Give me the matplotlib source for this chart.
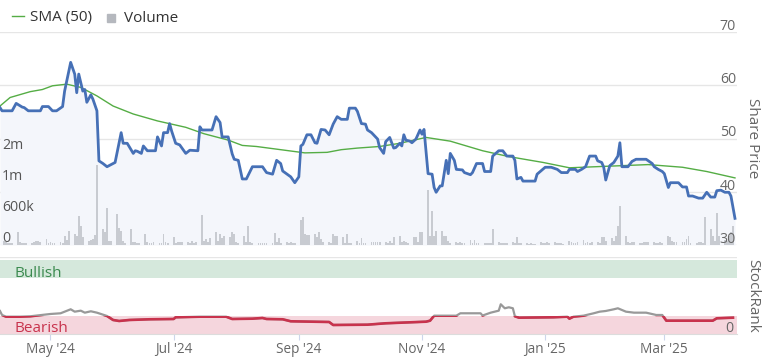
import matplotlib
matplotlib.use("Agg")
import matplotlib.pyplot as plt
import matplotlib.dates as mdates
import pandas as pd
import numpy as np
from matplotlib.patches import Rectangle
from matplotlib.lines import Line2D

plt.rcParams['font.family'] = ['Open Sans', 'DejaVu Sans']

# ---------------- data ----------------
price_dates = ['2024-04-06','2024-04-07','2024-04-12','2024-04-14','2024-04-17','2024-04-18','2024-04-20','2024-04-26','2024-04-27','2024-04-30',
 '2024-05-02','2024-05-04','2024-05-07','2024-05-08','2024-05-11','2024-05-13','2024-05-14','2024-05-15','2024-05-17','2024-05-18','2024-05-19','2024-05-21','2024-05-22','2024-05-24','2024-05-25','2024-05-27','2024-05-29',
 '2024-06-01','2024-06-02','2024-06-05','2024-06-06','2024-06-08','2024-06-11','2024-06-12','2024-06-13','2024-06-15','2024-06-16','2024-06-18','2024-06-22','2024-06-23','2024-06-25','2024-06-26','2024-06-28','2024-06-29','2024-06-30',
 '2024-07-02','2024-07-04','2024-07-07','2024-07-09','2024-07-13','2024-07-14','2024-07-15','2024-07-20','2024-07-22','2024-07-24','2024-07-25','2024-07-28','2024-07-30','2024-07-31',
 '2024-08-02','2024-08-04','2024-08-06','2024-08-09','2024-08-14','2024-08-16','2024-08-19','2024-08-21','2024-08-23','2024-08-24','2024-08-28','2024-08-30',
 '2024-09-01','2024-09-02','2024-09-03','2024-09-05','2024-09-07','2024-09-09','2024-09-10','2024-09-12','2024-09-14','2024-09-16','2024-09-18','2024-09-20','2024-09-22','2024-09-25','2024-09-26','2024-09-29','2024-09-30',
 '2024-10-02','2024-10-04','2024-10-05','2024-10-07','2024-10-10','2024-10-11','2024-10-13','2024-10-14','2024-10-16','2024-10-18','2024-10-19','2024-10-21','2024-10-22','2024-10-23','2024-10-24','2024-10-26','2024-10-27','2024-10-29','2024-10-31',
 '2024-11-01','2024-11-02','2024-11-04','2024-11-06','2024-11-07','2024-11-08','2024-11-10','2024-11-11','2024-11-13','2024-11-14','2024-11-15','2024-11-17','2024-11-18','2024-11-21','2024-11-22','2024-11-25','2024-11-26','2024-11-28',
 '2024-12-01','2024-12-02','2024-12-05','2024-12-06','2024-12-09','2024-12-11','2024-12-13','2024-12-16','2024-12-17','2024-12-18','2024-12-20','2024-12-21','2024-12-27','2024-12-28',
 '2025-01-01','2025-01-04','2025-01-07','2025-01-09','2025-01-12','2025-01-13','2025-01-16','2025-01-17','2025-01-19','2025-01-21','2025-01-23','2025-01-26','2025-01-27','2025-01-29','2025-01-30','2025-01-31',
 '2025-02-02','2025-02-04','2025-02-06','2025-02-07','2025-02-08','2025-02-11','2025-02-13','2025-02-15','2025-02-20','2025-02-23','2025-02-24','2025-02-26','2025-02-28',
 '2025-03-01','2025-03-03','2025-03-04','2025-03-08','2025-03-10','2025-03-12','2025-03-13','2025-03-15','2025-03-18','2025-03-20','2025-03-22','2025-03-24','2025-03-26','2025-03-27','2025-03-29','2025-03-31',
 '2025-04-02','2025-04-03','2025-04-05']
price_values = [55.8,55.2,55.2,56.6,55.9,55.8,55.2,55.2,56.0,56.0,
 55.2,55.2,56.0,58.9,64.3,62.1,58.6,62.1,58.9,59.2,56.8,58.2,57.4,55.2,45.8,45.3,44.7,
 45.3,45.5,51.1,49.1,49.1,47.2,47.7,47.6,47.2,48.6,47.7,47.7,50.3,48.6,51.1,51.1,52.8,51.4,
 49.1,48.8,47.2,47.8,47.7,52.2,51.6,51.6,54.1,53.0,50.3,50.3,47.1,46.1,
 45.9,42.4,42.4,44.7,44.7,43.6,43.3,45.9,45.3,43.9,42.8,41.7,
 42.8,48.6,48.9,50.7,50.7,49.2,49.1,51.7,51.6,50.7,52.7,54.1,53.6,53.6,55.7,55.7,55.1,
 52.8,52.7,51.6,51.1,49.9,48.3,47.2,49.4,50.2,48.2,48.3,49.1,48.6,50.7,49.7,49.5,49.2,49.9,51.6,
 50.8,51.7,43.4,43.3,40.8,39.9,41.1,41.1,45.9,43.4,47.2,45.9,44.2,44.1,43.6,43.2,43.6,45.3,
 45.3,43.8,43.8,46.7,47.7,47.7,46.7,46.7,45.9,42.4,42.7,42.0,42.0,43.3,
 44.6,44.6,44.2,43.6,43.6,44.2,44.2,43.8,44.2,44.7,46.7,46.7,45.8,45.5,44.6,42.2,
 44.9,45.5,46.7,49.2,44.7,44.7,45.7,46.1,46.1,45.3,44.7,44.2,43.8,
 43.4,40.8,41.7,41.7,40.9,40.9,39.2,39.2,38.8,38.8,39.9,39.0,39.0,40.2,40.3,39.9,
 39.9,39.2,35.0]

sma_dates = ['2024-04-06','2024-04-11','2024-04-21','2024-04-27','2024-05-02','2024-05-09','2024-05-16','2024-05-24','2024-06-01','2024-06-11',
 '2024-06-23','2024-07-07','2024-07-16','2024-07-28','2024-08-04','2024-08-11','2024-08-19','2024-08-29','2024-09-04','2024-09-15',
 '2024-09-22','2024-09-30','2024-10-11','2024-10-21','2024-11-03','2024-11-15','2024-12-01','2024-12-14','2024-12-31','2025-01-13',
 '2025-01-26','2025-02-08','2025-02-21','2025-03-10','2025-03-22','2025-04-05']
sma_values = [56.1,57.7,58.8,59.2,59.9,60.2,59.6,58.0,56.1,54.6,
 53.3,52.1,50.9,49.7,48.7,48.5,48.1,47.6,47.3,47.4,
 47.9,48.2,48.5,49.1,50.2,49.5,47.7,46.6,45.5,44.5,
 44.7,44.9,45.1,44.6,43.8,42.6]

# daily volume (thousands of shares), trading days from 2024-04-08
volume_k = [83,64,39,48,39, 257,64,39,48,39, 48,58,68,77,58, 116,48,52,39,33, 52,39,180,97,277,
 213,180,555,373,149, 83,97,116,194,1548, 310,257,716,83,83, 600,323,277,83,48, 310,64,52,48,39,
 213,64,39,39,64, 33,39,213,52,39, 149,39,52,52,52, 52,48,83,48,52, 580,83,116,58,130,
 257,77,213,130,180, 149,257,213,64,48, 180,58,373,64,39, 33,39,39,33,33, 33,232,52,130,48,
 52,39,52,39,33, 484,536,213,194,194, 213,149,257,116,64, 64,48,213,180,180, 149,48,213,48,33,
 83,48,130,39,33, 52,52,52,52,52, 64,48,83,48,161, 180,52,83,52,39, 149,161,58,246,246,
 1070,180,652,180,277, 277,180,168,83,48, 52,39,52,39,39, 103,33,103,33,33, 33,39,39,39,310,
 52,39,39,39,33, 52,39,161,39,33, 33,29,33,29,29, 64,33,39,52,39, 52,33,39,39,19,
 83,64,39,39,64, 103,48,52,39,64, 64,48,149,161,77, 130,77,180,373,760, 180,64,39,64,52,
 39,39,52,52,52, 52,39,39,52,33, 180,149,83,52,64, 52,52,116,180,39, 33,64,64,48,536,
 310,168,77,619,180, 97,77,180,257,362]

rank_dates = ['2024-04-06','2024-04-07','2024-04-09','2024-04-16','2024-04-21','2024-05-01','2024-05-06','2024-05-11','2024-05-13','2024-05-16',
 '2024-05-18','2024-05-21','2024-05-24','2024-05-29','2024-06-01','2024-06-04','2024-06-09','2024-06-19','2024-07-01','2024-07-02',
 '2024-07-14','2024-07-27','2024-07-30','2024-08-09','2024-08-14','2024-08-16','2024-08-24','2024-08-28','2024-09-16','2024-09-18',
 '2024-10-05','2024-10-14','2024-11-03','2024-11-05','2024-11-07','2024-11-18','2024-11-20','2024-11-30','2024-12-01','2024-12-05',
 '2024-12-09','2024-12-10','2024-12-12','2024-12-14','2024-12-16','2024-12-17','2024-12-19','2025-01-05','2025-01-12','2025-01-13',
 '2025-01-15','2025-01-20','2025-01-25','2025-01-28','2025-01-31','2025-02-04','2025-02-06','2025-02-10','2025-02-14','2025-02-20',
 '2025-02-25','2025-02-28','2025-03-02','2025-03-09','2025-03-25','2025-03-27','2025-04-04']
rank_values = [29.9,24.7,22.5,22.5,23.0,26.0,26.9,32.1,29.0,30.3,
 27.7,29.5,27.7,23.4,18.2,16.9,18.2,19.1,19.5,21.7,
 22.5,22.5,19.5,19.9,20.8,19.5,19.1,16.5,15.6,11.7,
 12.1,13.9,16.0,17.3,23.8,23.8,26.9,26.9,24.0,27.7,
 30.3,38.6,33.4,34.7,33.4,23.0,21.2,21.7,22.5,19.9,
 22.5,23.8,26.9,29.0,29.9,32.1,33.4,29.0,27.7,27.7,
 24.7,24.7,17.3,17.3,17.3,20.4,21.2]

bullish_band = (72.7, 96.1)
bearish_band = (0, 23.4)
price_ticks = [30, 40, 50, 60, 70]
vol_ticks = [0, 600000, 1200000, 1800000]
vol_tick_labels = ['0', '600k', '1m', '2m']
month_ticks = ['2024-05-01', '2024-07-01', '2024-09-01', '2024-11-01', '2025-01-01', '2025-03-01']
month_labels = ["May '24", "Jul '24", "Sep '24", "Nov '24", "Jan '25", "Mar '25"]

# ---------------- figure ----------------
W, H = 763, 358
fig = plt.figure(figsize=(W / 100, H / 100), dpi=100)

def rect(x0, y0, x1, y1):
    return [x0 / W, 1 - y1 / H, (x1 - x0) / W, (y1 - y0) / H]

pd_price = pd.to_datetime(price_dates)
pd_sma = pd.to_datetime(sma_dates)
pd_rank = pd.to_datetime(rank_dates)
vol_dates = pd.bdate_range('2024-04-08', periods=len(volume_k))
vols = np.array(volume_k) * 1000.0

xmin = pd.Timestamp('2024-04-06')
xmax = pd.Timestamp('2025-04-06')

GRID = '#e6e6e6'
LABEL = '#666666'
AXFS = 10.2
TITLEFS = 11
main_rect = rect(0, 32, 737, 245)

ax_bg = fig.add_axes(main_rect)
ax_v = fig.add_axes(main_rect, sharex=ax_bg)
ax_p = fig.add_axes(main_rect, sharex=ax_bg)
for a in (ax_bg, ax_v, ax_p):
    for s in a.spines.values():
        s.set_visible(False)
    a.tick_params(left=False, right=False, bottom=False, top=False,
                  labelleft=False, labelbottom=False)
    a.set_xlim(xmin, xmax)
ax_v.patch.set_visible(False)
ax_p.patch.set_visible(False)

ax_bg.set_ylim(30, 70)
ax_p.set_ylim(30, 70)
ax_v.set_ylim(0, 600000 * 213 / 31)

for t in price_ticks:
    ax_bg.axhline(t, color=GRID, lw=1.0, zorder=0)
ax_bg.fill_between(pd_price, price_values, 30, color='#f4f6fb', lw=0, zorder=1)

ax_v.bar(vol_dates, vols, width=0.9, color='#c8cbd1', lw=0)

ax_p.plot(pd_sma, sma_values, color='#55ad45', lw=1.0)
ax_p.plot(pd_price, price_values, color='#4670b6', lw=2.0, solid_joinstyle='round')

for t in price_ticks:
    ax_p.annotate(str(t), xy=(1, t), xycoords=('axes fraction', 'data'),
                  xytext=(-1, 2), textcoords='offset pixels', ha='right', va='baseline',
                  color=LABEL, fontsize=AXFS)
for t, lab in zip(vol_ticks, vol_tick_labels):
    ax_v.annotate(lab, xy=(0, t), xycoords=('axes fraction', 'data'),
                  xytext=(2, 3), textcoords='offset pixels', ha='left', va='baseline',
                  color='#555555', fontsize=AXFS)

# ---------------- StockRank panel ----------------
ax_r = fig.add_axes(rect(0, 257, 737, 334), sharex=ax_bg)
ax_r.set_ylim(0, 100)
ax_r.set_xlim(xmin, xmax)
for k, s in ax_r.spines.items():
    s.set_visible(k == 'bottom')
ax_r.spines['bottom'].set_color('#dcdcdc')
ax_r.axhline(100, color=GRID, lw=1.0)
ax_r.axhspan(*bullish_band, color='#d5e8dc', lw=0, zorder=0)
ax_r.axhspan(*bearish_band, color='#f5d6dd', lw=0, zorder=0)

ax_r.plot(pd_rank, rank_values, color='#999999', lw=1.6, zorder=3)
red_line, = ax_r.plot(pd_rank, rank_values, color='#c8334d', lw=1.9, zorder=4)
clip = Rectangle((mdates.date2num(xmin), bearish_band[0]),
                 mdates.date2num(xmax) - mdates.date2num(xmin),
                 bearish_band[1] - bearish_band[0], transform=ax_r.transData)
red_line.set_clip_path(clip)

ax_r.text(14 / 737, (334 - 276.7) / 77, 'Bullish', transform=ax_r.transAxes,
          ha='left', va='baseline', color='#3b8a4f', fontsize=TITLEFS)
ax_r.text(14 / 737, (334 - 332.5) / 77, 'Bearish', transform=ax_r.transAxes,
          ha='left', va='baseline', color='#c8334d', fontsize=TITLEFS)
ax_r.annotate('0', xy=(1, 0), xycoords=('axes fraction', 'data'),
              xytext=(-4, 2.5), textcoords='offset pixels', ha='right', va='baseline',
              color=LABEL, fontsize=AXFS)

ax_r.set_yticks([])
ax_r.set_xticks(pd.to_datetime(month_ticks))
ax_r.set_xticklabels(month_labels)
ax_r.tick_params(axis='x', direction='out', length=4.3, width=0.8, color='#ccd6eb',
                 labelcolor=LABEL, labelsize=9.8, pad=1.2, labelbottom=True, bottom=True)

# ---------------- legend & side titles ----------------
fig.add_artist(Line2D([12 / W, 24 / W], [1 - 15.5 / H, 1 - 15.5 / H], color='#55ad45', lw=1.0))
fig.text(30 / W, 1 - 21.5 / H, 'SMA (50)', ha='left', va='baseline', color='#333333', fontsize=TITLEFS)
fig.add_artist(Line2D([110.5 / W], [1 - 17.5 / H], marker='s', markersize=5.2,
                      color='#b5b8be', lw=0))
fig.text(124 / W, 1 - 21.5 / H, 'Volume', ha='left', va='baseline', color='#333333', fontsize=TITLEFS)

fig.text(752.5 / W, 1 - 138 / H, 'Share Price', rotation=270, ha='center', va='center',
         color=LABEL, fontsize=TITLEFS)
fig.text(752.5 / W, 1 - 295.5 / H, 'StockRank', rotation=270, ha='center', va='center',
         color=LABEL, fontsize=TITLEFS)

fig.savefig('out.png', dpi=100)
